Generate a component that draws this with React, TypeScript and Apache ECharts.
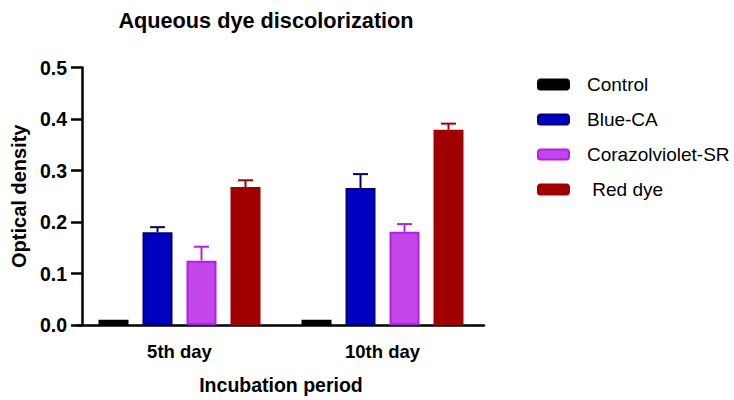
import React, { useEffect, useRef } from "react";
import * as echarts from "echarts";

const categories = ["5th day", "10th day"];
const seriesNames = ["Control", "Blue-CA", "Corazolviolet-SR", " Red dye"];
const controlValues = [0.01, 0.01];
const blueValues = [0.18, 0.266];
const violetValues = [0.125, 0.181];
const redValues = [0.268, 0.379];
const controlErr = [0, 0];
const blueErr = [0.01, 0.027];
const violetErr = [0.027, 0.015];
const redErr = [0.013, 0.012];
const yTicks = [0, 0.1, 0.2, 0.3, 0.4, 0.5];

const fills = ["#000000", "#0000C0", "#C446E8", "#A00000"];
const borders = ["#000000", "#00007A", "#B020E8", "#A00000"];

const BAR_W = 30;
const BAR_GAP = 14;

export default function App() {
  const ref = useRef<HTMLDivElement>(null);
  useEffect(() => {
    if (!ref.current) return;
    const chart = echarts.init(ref.current, undefined, { renderer: "svg" });
    const values = [controlValues, blueValues, violetValues, redValues];
    const errs = [controlErr, blueErr, violetErr, redErr];
    const font = "Arial, 'Liberation Sans', sans-serif";

    const barSeries = values.map((vals, i) => ({
      type: "bar",
      name: seriesNames[i],
      data: vals,
      barWidth: BAR_W,
      barGap: (BAR_GAP / BAR_W) * 100 + "%",
      itemStyle: { color: fills[i], borderColor: borders[i], borderWidth: 2 },
      z: 2,
    }));

    const errSeries = values.map((vals, i) => ({
      type: "custom",
      name: seriesNames[i] + "_err",
      data: vals.map((v, j) => [j, v, v + errs[i][j]]),
      z: 3,
      renderItem: (params: any, api: any) => {
        const cat = api.value(0);
        const base = api.coord([cat, api.value(1)]);
        const top = api.coord([cat, api.value(2)]);
        const off = (i - 1.5) * (BAR_W + BAR_GAP);
        const x = base[0] + off;
        if (api.value(2) - api.value(1) <= 0) return { type: "group", children: [] };
        const style = { stroke: borders[i], lineWidth: 2 };
        return {
          type: "group",
          children: [
            { type: "line", shape: { x1: x, y1: base[1], x2: x, y2: top[1] }, style },
            { type: "line", shape: { x1: x - 7.5, y1: top[1], x2: x + 7.5, y2: top[1] }, style },
          ],
        };
      },
    }));

    chart.setOption({
      animation: false,
      title: {
        text: "Aqueous dye discolorization",
        left: 266,
        textAlign: "center",
        top: 9,
        padding: 0,
        textStyle: { fontFamily: font, fontSize: 21.7, fontWeight: "bold", color: "#000" },
      },
      legend: {
        orient: "vertical",
        left: 537,
        top: 75,
        padding: 0,
        itemWidth: 31,
        itemHeight: 10,
        itemGap: 16,
        data: seriesNames.map((n, i) => ({
          name: n,
          itemStyle: { color: fills[i], borderColor: borders[i], borderWidth: 2 },
        })),
        textStyle: { fontFamily: font, fontSize: 19, color: "#000", padding: [0, 0, 0, 13] },
      },
      grid: { left: 78, width: 406, top: 67.5, bottom: 69.5 },
      xAxis: {
        type: "category",
        data: categories,
        name: "Incubation period",
        nameLocation: "middle",
        nameGap: 50,
        nameTextStyle: { fontFamily: font, fontSize: 19.5, fontWeight: "bold", color: "#000" },
        axisLine: { lineStyle: { color: "#000", width: 2.5 } },
        axisTick: { alignWithLabel: true, length: 10, lineStyle: { color: "#000", width: 2.5 } },
        axisLabel: { fontFamily: font, fontSize: 18.5, fontWeight: "bold", color: "#000", margin: 17 },
      },
      yAxis: {
        type: "value",
        min: 0,
        max: 0.5,
        interval: 0.1,
        offset: -4,
        name: "Optical density",
        nameLocation: "middle",
        nameGap: 52,
        nameTextStyle: { fontFamily: font, fontSize: 20, fontWeight: "bold", color: "#000" },
        axisLine: { show: true, lineStyle: { color: "#000", width: 2.5 } },
        axisTick: { show: true, length: 11, lineStyle: { color: "#000", width: 2.5 } },
        splitLine: { show: false },
        axisLabel: {
          fontFamily: font,
          fontSize: 19.5,
          fontWeight: "bold",
          color: "#000",
          margin: 15,
          formatter: (v: number) => (yTicks.some((t) => Math.abs(t - v) < 1e-9) ? v.toFixed(1) : ""),
        },
      },
      series: [...barSeries, ...errSeries],
    } as any);
    return () => chart.dispose();
  }, []);
  return <div ref={ref} style={{ width: 734, height: 400, position: "absolute", left: 0, top: 0 }} />;
}
